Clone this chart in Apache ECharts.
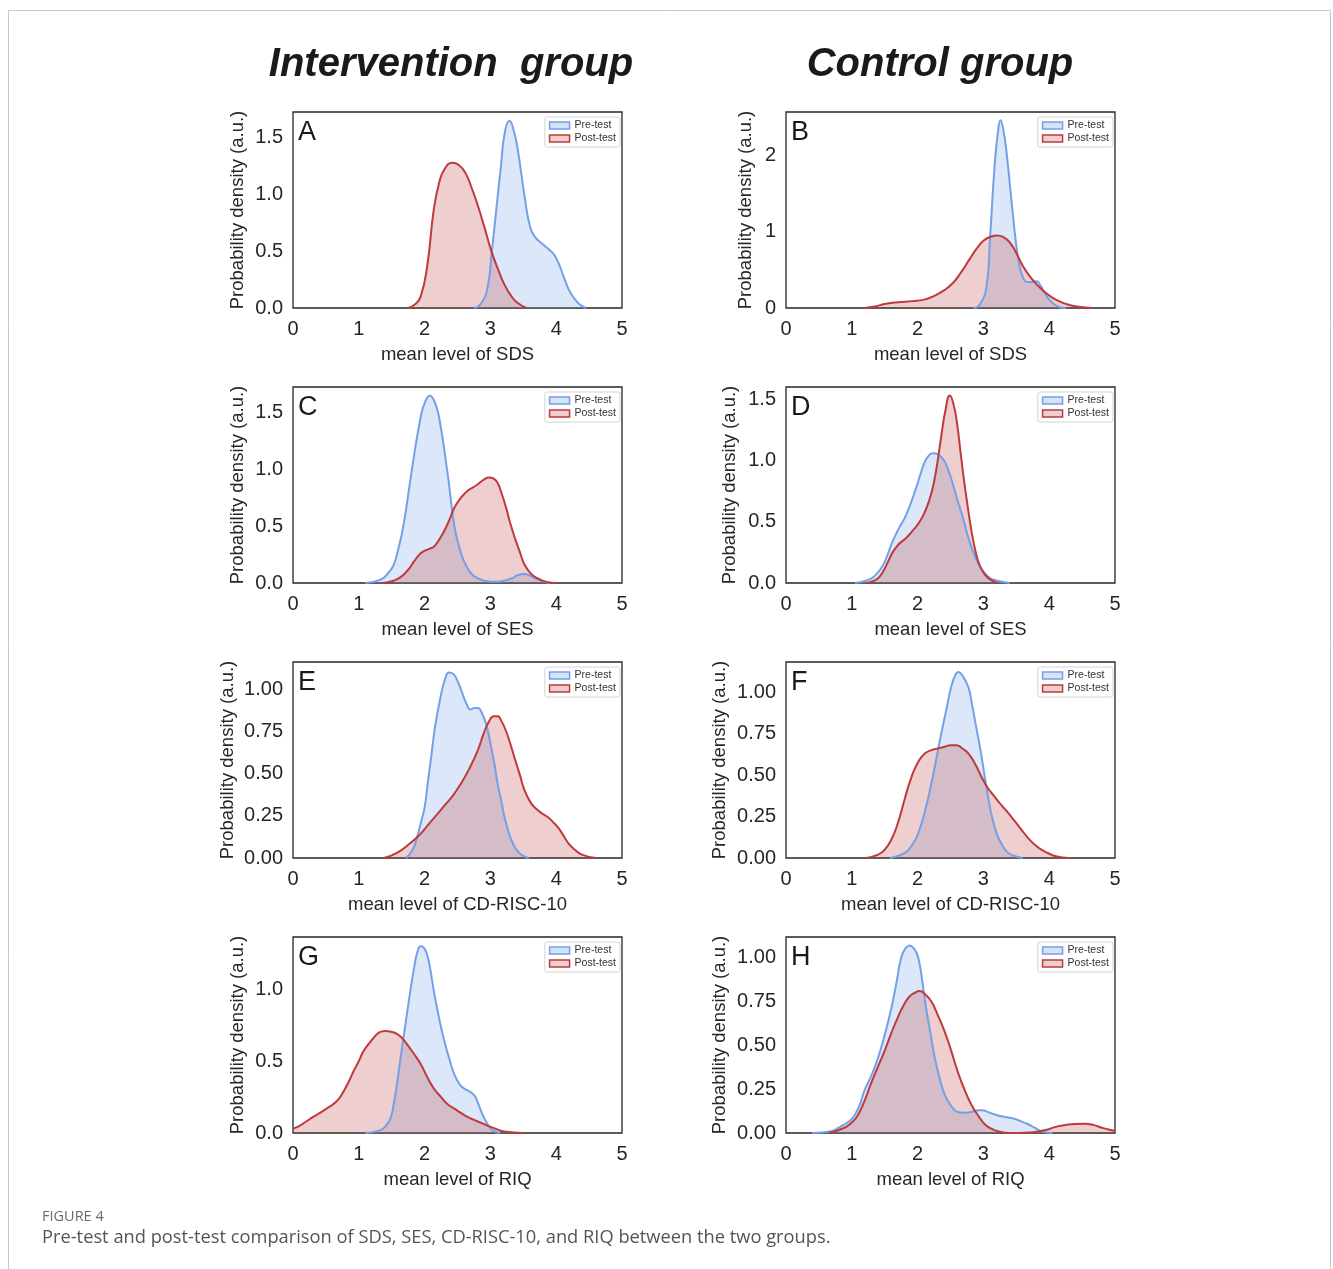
<!DOCTYPE html>
<html>
<head>
<meta charset="utf-8">
<title>Figure 4</title>
<script src="https://cdn.jsdelivr.net/npm/echarts@6/dist/echarts.min.js"></script>
<style>
  html, body { margin: 0; padding: 0; background: #fff; }
  #chart { width: 1333px; height: 1269px; }
</style>
</head>
<body>
<div id="chart"></div>
<script>
// panel info
const letters = ['A', 'B', 'C', 'D', 'E', 'F', 'G', 'H'];
const measures = ['SDS', 'SDS', 'SES', 'SES', 'CD-RISC-10', 'CD-RISC-10', 'RIQ', 'RIQ'];
const yMax = [1.726, 2.567, 1.726, 1.60, 1.162, 1.181, 1.365, 1.118];
const yStep = [0.5, 1, 0.5, 0.5, 0.25, 0.25, 0.5, 0.25];
const yDigits = [1, 0, 1, 1, 2, 2, 1, 2];
const groupTitles = ['Intervention  group', 'Control group'];

// density curves: [mean level, density]
const preA = [[2.75,0],[2.86,0.04],[2.96,0.19],[3.02,0.49],[3.09,0.87],[3.16,1.25],[3.22,1.55],[3.29,1.65],[3.36,1.55],[3.42,1.38],[3.52,0.98],[3.6,0.72],[3.67,0.63],[3.8,0.56],[3.92,0.5],[3.98,0.46],[4.06,0.36],[4.13,0.25],[4.22,0.13],[4.34,0.04],[4.45,0]];
const postA = [[1.75,0],[1.85,0.03],[1.94,0.1],[2.04,0.37],[2.14,0.87],[2.22,1.1],[2.3,1.22],[2.42,1.28],[2.52,1.26],[2.62,1.19],[2.72,1.05],[2.81,0.9],[2.91,0.71],[3.01,0.51],[3.11,0.35],[3.21,0.21],[3.3,0.12],[3.4,0.05],[3.55,0]];
const preB = [[2.85,0],[2.95,0.05],[3.05,0.3],[3.1,0.9],[3.17,1.86],[3.22,2.3],[3.26,2.46],[3.3,2.35],[3.35,2.05],[3.45,1.21],[3.53,0.64],[3.6,0.4],[3.67,0.34],[3.74,0.34],[3.81,0.35],[3.87,0.29],[3.93,0.2],[4.0,0.11],[4.06,0.06],[4.16,0.01],[4.25,0]];
const postB = [[1.2,0],[1.35,0.02],[1.52,0.055],[1.7,0.075],[1.93,0.09],[2.1,0.11],[2.23,0.15],[2.4,0.23],[2.54,0.33],[2.67,0.48],[2.79,0.64],[2.9,0.78],[3.0,0.88],[3.1,0.93],[3.21,0.95],[3.3,0.93],[3.4,0.86],[3.5,0.72],[3.6,0.55],[3.7,0.42],[3.81,0.31],[3.93,0.21],[4.06,0.13],[4.2,0.07],[4.31,0.04],[4.45,0.015],[4.65,0]];
const preC = [[1.1,0],[1.33,0.03],[1.45,0.09],[1.53,0.16],[1.6,0.3],[1.68,0.51],[1.81,1.01],[1.94,1.46],[2.01,1.6],[2.08,1.65],[2.15,1.6],[2.22,1.46],[2.35,0.96],[2.45,0.51],[2.52,0.33],[2.6,0.19],[2.7,0.09],[2.81,0.04],[2.95,0.015],[3.06,0.01],[3.2,0.02],[3.32,0.04],[3.42,0.07],[3.52,0.08],[3.62,0.06],[3.72,0.03],[3.9,0]];
const postC = [[1.35,0],[1.5,0.015],[1.63,0.05],[1.74,0.11],[1.84,0.19],[1.92,0.25],[1.99,0.28],[2.07,0.3],[2.14,0.32],[2.22,0.38],[2.3,0.46],[2.38,0.56],[2.45,0.66],[2.55,0.75],[2.65,0.81],[2.73,0.84],[2.81,0.87],[2.9,0.91],[2.98,0.93],[3.05,0.92],[3.11,0.88],[3.17,0.79],[3.24,0.66],[3.3,0.53],[3.37,0.4],[3.45,0.27],[3.52,0.16],[3.62,0.08],[3.72,0.04],[3.85,0.01],[4.0,0]];
const preD = [[1.05,0],[1.27,0.03],[1.37,0.07],[1.47,0.14],[1.55,0.24],[1.62,0.34],[1.72,0.45],[1.83,0.56],[1.98,0.78],[2.05,0.9],[2.11,0.99],[2.17,1.04],[2.23,1.06],[2.31,1.05],[2.39,1.01],[2.46,0.93],[2.54,0.8],[2.61,0.67],[2.69,0.53],[2.76,0.39],[2.84,0.26],[2.92,0.16],[2.99,0.1],[3.1,0.04],[3.2,0.02],[3.4,0]];
const postD = [[1.2,0],[1.32,0.015],[1.42,0.05],[1.52,0.14],[1.62,0.25],[1.72,0.32],[1.83,0.37],[1.93,0.43],[2.03,0.5],[2.11,0.58],[2.18,0.68],[2.24,0.8],[2.3,0.98],[2.36,1.2],[2.42,1.4],[2.49,1.53],[2.55,1.45],[2.6,1.3],[2.65,1.08],[2.7,0.86],[2.76,0.63],[2.82,0.42],[2.88,0.26],[2.94,0.15],[3.02,0.07],[3.1,0.03],[3.22,0]];
const preE = [[1.72,0],[1.82,0.05],[1.89,0.13],[1.95,0.22],[2.0,0.3],[2.05,0.45],[2.1,0.6],[2.16,0.78],[2.24,0.95],[2.31,1.06],[2.37,1.1],[2.44,1.09],[2.5,1.05],[2.57,0.98],[2.63,0.92],[2.7,0.88],[2.76,0.89],[2.81,0.89],[2.87,0.86],[2.93,0.8],[2.99,0.7],[3.06,0.56],[3.11,0.44],[3.17,0.33],[3.21,0.25],[3.28,0.15],[3.35,0.08],[3.45,0.025],[3.58,0]];
const postE = [[1.38,0],[1.58,0.03],[1.79,0.09],[1.93,0.14],[2.04,0.19],[2.17,0.25],[2.3,0.31],[2.43,0.37],[2.55,0.44],[2.68,0.53],[2.81,0.64],[2.9,0.74],[2.98,0.81],[3.05,0.84],[3.11,0.84],[3.17,0.81],[3.24,0.75],[3.3,0.68],[3.37,0.59],[3.45,0.49],[3.52,0.4],[3.61,0.33],[3.7,0.29],[3.8,0.26],[3.88,0.24],[3.96,0.21],[4.03,0.18],[4.1,0.14],[4.18,0.09],[4.28,0.05],[4.39,0.02],[4.6,0]];
const preF = [[1.58,0],[1.8,0.03],[1.92,0.08],[2.01,0.15],[2.11,0.28],[2.21,0.45],[2.3,0.63],[2.36,0.75],[2.44,0.9],[2.51,1.03],[2.57,1.1],[2.62,1.12],[2.68,1.1],[2.77,1.03],[2.83,0.92],[2.89,0.79],[2.96,0.64],[3.02,0.49],[3.08,0.35],[3.13,0.25],[3.2,0.15],[3.27,0.09],[3.35,0.04],[3.45,0.015],[3.6,0]];
const postF = [[1.22,0],[1.4,0.02],[1.5,0.05],[1.6,0.11],[1.7,0.21],[1.8,0.35],[1.9,0.48],[2.01,0.58],[2.11,0.63],[2.21,0.65],[2.31,0.66],[2.41,0.67],[2.5,0.68],[2.59,0.68],[2.68,0.66],[2.77,0.63],[2.87,0.57],[2.97,0.49],[3.07,0.42],[3.17,0.37],[3.27,0.32],[3.38,0.27],[3.48,0.22],[3.58,0.17],[3.68,0.12],[3.78,0.08],[3.88,0.05],[3.98,0.03],[4.1,0.01],[4.3,0]];
const preG = [[1.1,0],[1.33,0.02],[1.41,0.05],[1.48,0.1],[1.53,0.2],[1.58,0.34],[1.64,0.54],[1.71,0.76],[1.78,0.98],[1.84,1.15],[1.89,1.26],[1.94,1.3],[1.99,1.29],[2.04,1.24],[2.09,1.13],[2.14,0.99],[2.22,0.8],[2.3,0.64],[2.38,0.51],[2.45,0.41],[2.53,0.34],[2.6,0.31],[2.68,0.29],[2.76,0.26],[2.81,0.21],[2.86,0.15],[2.91,0.1],[2.96,0.06],[3.03,0.02],[3.15,0]];
const postG = [[0,0.03],[0.1,0.05],[0.2,0.08],[0.3,0.11],[0.41,0.14],[0.51,0.17],[0.61,0.2],[0.7,0.24],[0.77,0.29],[0.85,0.36],[0.92,0.43],[1.0,0.5],[1.07,0.57],[1.15,0.62],[1.22,0.66],[1.31,0.7],[1.4,0.71],[1.49,0.705],[1.58,0.69],[1.66,0.66],[1.73,0.62],[1.84,0.55],[1.94,0.48],[2.04,0.39],[2.14,0.31],[2.25,0.25],[2.35,0.2],[2.45,0.17],[2.55,0.14],[2.66,0.11],[2.76,0.09],[2.86,0.07],[2.96,0.05],[3.08,0.03],[3.21,0.01],[3.5,0]];
const preH = [[0.4,0],[0.69,0.01],[0.8,0.03],[0.89,0.05],[0.97,0.07],[1.04,0.1],[1.12,0.16],[1.19,0.24],[1.3,0.33],[1.4,0.43],[1.5,0.56],[1.6,0.71],[1.68,0.86],[1.75,1.0],[1.81,1.05],[1.88,1.07],[1.95,1.05],[2.01,1.0],[2.07,0.87],[2.13,0.71],[2.2,0.56],[2.26,0.43],[2.33,0.32],[2.41,0.22],[2.5,0.16],[2.61,0.12],[2.71,0.115],[2.82,0.12],[2.92,0.13],[2.97,0.13],[3.1,0.115],[3.22,0.1],[3.35,0.09],[3.48,0.08],[3.58,0.065],[3.68,0.05],[3.78,0.03],[3.88,0.01],[4.05,0]];
const postH = [[0.65,0],[0.89,0.03],[1.0,0.06],[1.09,0.1],[1.19,0.18],[1.29,0.28],[1.4,0.38],[1.5,0.47],[1.6,0.57],[1.7,0.66],[1.79,0.73],[1.88,0.78],[1.96,0.8],[2.03,0.81],[2.12,0.79],[2.21,0.75],[2.31,0.67],[2.41,0.58],[2.51,0.47],[2.61,0.35],[2.71,0.25],[2.82,0.16],[2.92,0.1],[3.02,0.05],[3.12,0.025],[3.22,0.01],[3.4,0],[3.7,0.003],[3.85,0.01],[3.98,0.02],[4.1,0.035],[4.24,0.045],[4.4,0.052],[4.54,0.053],[4.68,0.045],[4.8,0.03],[4.9,0.02],[5.0,0.013]];

const preData = [preA, preB, preC, preD, preE, preF, preG, preH];
const postData = [postA, postB, postC, postD, postE, postF, postG, postH];

const BLUE = '#73a0e6';
const RED = '#bd3b3d';
const TXT = '#262626';

// layout of the 4x2 panels
const colLeft = [293, 786];
const rowTop = [112, 387, 662, 937];
const plotW = 329, plotH = 196;
const yNameGap = [46, 31, 46, 47, 56, 57, 46, 57];

const grids = [], xAxes = [], yAxes = [], series = [], titles = [], legends = [];

groupTitles.forEach((t, c) => {
    titles.push({
        text: t, left: c === 0 ? 451 : 940, top: 45, textAlign: 'center', padding: 0,
        textStyle: { fontSize: 40, fontWeight: 'bold', fontStyle: 'italic', color: '#1a1a1a', fontFamily: 'Liberation Sans' }
    });
});

for (let i = 0; i < 8; i++) {
    const left = colLeft[i % 2];
    const top = rowTop[Math.floor(i / 2)];
    grids.push({ left: left, top: top, width: plotW, height: plotH, show: true, borderColor: '#262626', borderWidth: 1.3 });
    xAxes.push({
        gridIndex: i, type: 'value', min: 0, max: 5, interval: 1,
        name: 'mean level of ' + measures[i], nameLocation: 'middle', nameGap: 37,
        nameTextStyle: { fontSize: 18.5, color: TXT },
        axisLine: { show: false }, axisTick: { show: false }, splitLine: { show: false },
        axisLabel: { fontSize: 20, color: TXT, margin: 11 }
    });
    yAxes.push({
        gridIndex: i, type: 'value', min: 0, max: yMax[i], interval: yStep[i],
        name: 'Probability density (a.u.)', nameLocation: 'middle', nameGap: yNameGap[i],
        nameTextStyle: { fontSize: 18.5, color: TXT },
        axisLine: { show: false }, axisTick: { show: false }, splitLine: { show: false },
        axisLabel: {
            fontSize: 20, color: TXT, margin: 10, showMaxLabel: false,
            formatter: v => v.toFixed(yDigits[i])
        }
    });
    series.push({
        name: 'Pre-test', type: 'line', xAxisIndex: i, yAxisIndex: i, data: preData[i],
        smooth: 0.5, showSymbol: false, symbol: 'none',
        lineStyle: { color: BLUE, width: 2 }, itemStyle: { color: BLUE },
        areaStyle: { color: BLUE, opacity: 0.25 }
    });
    series.push({
        name: 'Post-test', type: 'line', xAxisIndex: i, yAxisIndex: i, data: postData[i],
        smooth: 0.5, showSymbol: false, symbol: 'none',
        lineStyle: { color: RED, width: 2 }, itemStyle: { color: RED },
        areaStyle: { color: RED, opacity: 0.25 }
    });
    // panel letter
    titles.push({
        text: letters[i], left: left + 5, top: top + 7, padding: 0,
        textStyle: { fontSize: 27, fontWeight: 'normal', color: '#1a1a1a' }
    });
    legends.push({
        orient: 'vertical', right: 1333 - (left + plotW) + 2, top: top + 5,
        icon: 'rect', itemWidth: 20, itemHeight: 7, itemGap: 2, itemTextGap: 5,
        padding: [3, 4, 3, 4], borderColor: '#d4d4d4', borderWidth: 1, borderRadius: 2,
        backgroundColor: '#fff', selectedMode: false,
        textStyle: { fontSize: 10.5, color: '#333' },
        data: [
            { name: 'Pre-test', itemStyle: { color: 'rgba(115,160,230,0.3)', borderColor: BLUE, borderWidth: 1.5 } },
            { name: 'Post-test', itemStyle: { color: 'rgba(189,59,61,0.25)', borderColor: RED, borderWidth: 1.5 } }
        ]
    });
}

// caption under the figure
titles.push({
    text: 'FIGURE 4', left: 42, top: 1209, padding: 0,
    textStyle: { fontSize: 14.5, fontWeight: 'normal', color: '#6b6b6b', fontFamily: 'Open Sans' }
});
titles.push({
    text: 'Pre-test and post-test comparison of SDS, SES, CD-RISC-10, and RIQ between the two groups.',
    left: 42, top: 1229, padding: 0,
    textStyle: { fontSize: 18.3, fontWeight: 'normal', color: '#555', fontFamily: 'Open Sans' }
});

const chart = echarts.init(document.getElementById('chart'));
chart.setOption({
    animation: false,
    backgroundColor: '#fff',
    textStyle: { fontFamily: 'Liberation Sans' },
    title: titles,
    legend: legends,
    grid: grids,
    xAxis: xAxes,
    yAxis: yAxes,
    series: series,
    graphic: [{
        type: 'rect', silent: true,
        shape: { x: 8.5, y: 10.5, width: 1322, height: 1280 },
        style: { fill: 'none', stroke: '#c8c8c8', lineWidth: 1 }
    }]
});
</script>
</body>
</html>
